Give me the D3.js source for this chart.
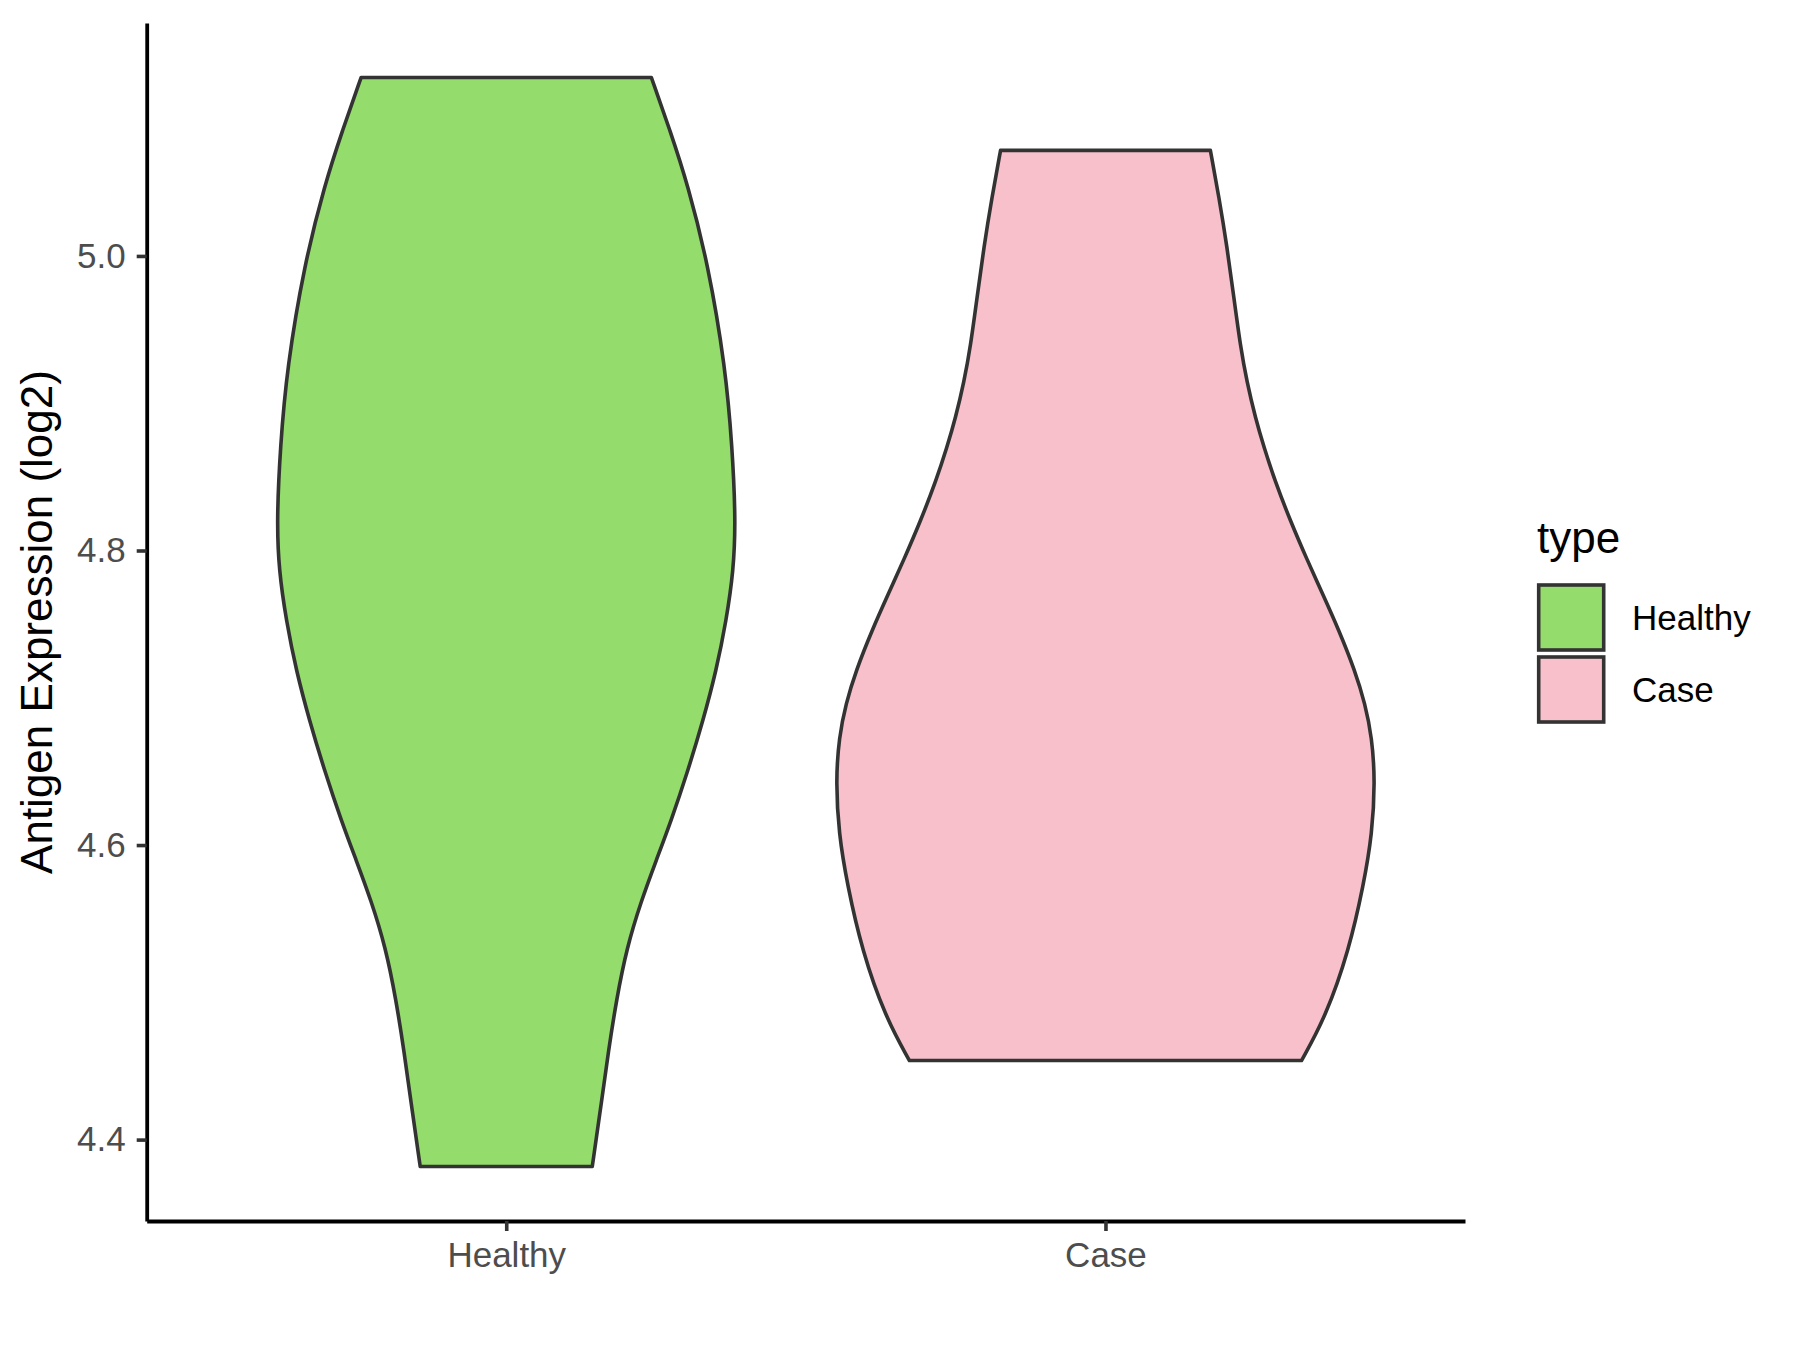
<!DOCTYPE html>
<head>
<meta charset="utf-8">
<title> Violin </title>
<script type="text/javascript" src="https://cdn.jsdelivr.net/npm/d3@7/dist/d3.min.js"></script>
<style>
body { margin: 0; background: white; }
text { font-family: "Liberation Sans", Arial, sans-serif; }
.axis text { font-size: 35px; fill: #4D4D4D; }
.axis path { stroke: #000; stroke-width: 3.8px; }
.axis line { stroke: #333; stroke-width: 3.6px; }
</style>
</head>

<body>
<script>
// groups shown on the x axis, in order
var categories = ["Healthy", "Case"];
var colors = ["#94DC6B", "#F7C0CB"];

// violin outlines: expression value and relative density (max = 1)
var healthyY = [5.1212, 5.0845, 5.0486, 4.9942, 4.9243, 4.8706, 4.8204, 4.7864, 4.7525, 4.7185, 4.6846, 4.6506, 4.6167, 4.5895, 4.5623, 4.5303, 4.4952, 4.4602, 4.4251, 4.3817];
var healthyDensity = [0.538, 0.609, 0.673, 0.749, 0.813, 0.838, 0.851, 0.843, 0.816, 0.779, 0.730, 0.674, 0.612, 0.556, 0.501, 0.447, 0.409, 0.379, 0.353, 0.319];

var caseY = [5.0717, 5.0399, 5.0060, 4.9720, 4.9381, 4.9150, 4.8900, 4.8700, 4.8475, 4.8204, 4.7932, 4.7706, 4.7457, 4.7185, 4.6959, 4.6732, 4.6438, 4.6076, 4.5736, 4.5284, 4.4831, 4.4537];
var caseDensity = [0.389, 0.421, 0.451, 0.476, 0.501, 0.524, 0.556, 0.588, 0.628, 0.685, 0.749, 0.805, 0.866, 0.925, 0.963, 0.988, 1.0, 0.989, 0.958, 0.903, 0.816, 0.727];

var yTicks = [4.4, 4.6, 4.8, 5.0];

var width = 1800, height = 1350;
var plotLeft = 146.7, plotRight = 1465, plotTop = 23, plotBottom = 1221;

var svg = d3.select("body").append("svg")
	.attr("width", width)
	.attr("height", height);

// y range = data range expanded by 5% like ggplot
var allY = healthyY.concat(caseY);
var lo = d3.min(allY), hi = d3.max(allY);
var pad = (hi - lo) * 0.05;

var y = d3.scaleLinear()
	.domain([lo - pad, hi + pad])
	.range([plotBottom, plotTop]);

var x = d3.scalePoint()
	.domain(categories)
	.range([plotLeft, plotRight])
	.padding(0.6);

var halfMax = 0.45 * x.step();

var groups = [
	{name: "Healthy", ys: healthyY, dens: healthyDensity, color: colors[0]},
	{name: "Case", ys: caseY, dens: caseDensity, color: colors[1]}
];

groups.forEach(function(g) {
	var pts = g.ys.map(function(v, i) { return {v: v, d: g.dens[i]}; });
	var cx = x(g.name);
	var area = d3.area()
		.curve(d3.curveBasis)
		.y(function(p) { return y(p.v); })
		.x0(function(p) { return cx - p.d * halfMax; })
		.x1(function(p) { return cx + p.d * halfMax; });
	svg.append("path")
		.datum(pts)
		.attr("d", area)
		.style("fill", g.color)
		.style("stroke", "#333333")
		.style("stroke-width", 3.6)
		.style("stroke-linejoin", "round");
});

// axes
svg.append("g")
	.attr("class", "axis")
	.attr("transform", "translate(" + plotLeft + ",0)")
	.call(d3.axisLeft(y).tickValues(yTicks).tickFormat(d3.format(".1f"))
		.tickSize(10).tickSizeOuter(0).tickPadding(11));

svg.append("g")
	.attr("class", "axis")
	.attr("transform", "translate(0," + plotBottom + ")")
	.call(d3.axisBottom(x).tickSize(10).tickSizeOuter(0).tickPadding(11));

// y axis title
svg.append("text")
	.attr("transform", "translate(52," + ((plotTop + plotBottom) / 2) + ") rotate(-90)")
	.attr("text-anchor", "middle")
	.style("font-size", "44px")
	.style("fill", "black")
	.text("Antigen Expression (log2)");

// legend
var legend = svg.append("g").attr("transform", "translate(1537,0)");
legend.append("text")
	.attr("x", 0)
	.attr("y", 553)
	.style("font-size", "44px")
	.style("fill", "black")
	.text("type");

groups.forEach(function(g, i) {
	legend.append("rect")
		.attr("x", 1.7)
		.attr("y", 585 + i * 72)
		.attr("width", 65)
		.attr("height", 65)
		.style("fill", g.color)
		.style("stroke", "#333333")
		.style("stroke-width", 3.6);
	legend.append("text")
		.attr("x", 95)
		.attr("y", 630 + i * 72)
		.style("font-size", "35px")
		.style("fill", "black")
		.text(g.name);
});
</script>
</body>
